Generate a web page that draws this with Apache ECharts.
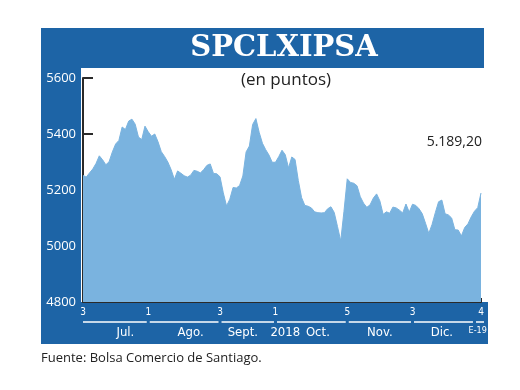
<!DOCTYPE html>
<html><head><meta charset="utf-8">
<script src="https://cdn.jsdelivr.net/npm/echarts@6/dist/echarts.min.js"></script>
<style>html,body{margin:0;padding:0;background:#fff}#c{width:520px;height:390px}</style>
</head><body><div id="c"></div><script>
// SPCLXIPSA daily closes, 3 Jul 2018 .. 4 Jan 2019
const values = [
5252,5246,5261,5275,5295,5322,5308,5290,5301,5336,5364,5377,5425,5416,5446,5453,5435,5389,5380,5428,
5408,5392,5400,5372,5337,5320,5300,5273,5238,5268,5260,5251,5246,5253,5270,5267,5261,5273,5288,5293,5259,5258,
5247,5190,5143,5167,5209,5207,5216,5250,5336,5357,5434,5455,5406,5367,5344,5325,5299,
5299,5319,5342,5326,5279,5318,5309,5234,5173,5145,5142,5136,5122,5119,5118,5119,5133,5140,5120,5070,5018,5124,5240,
5227,5224,5215,5176,5153,5138,5147,5171,5186,5161,5113,5122,5117,5139,5136,5128,5118,5150,5121,
5149,5145,5133,5115,5081,5045,5077,5119,5158,5164,5115,5111,5100,5058,5057,5036,5066,5079,5104,5124,5137,5189.2
];
const categories = values.map((_, i) => String(i));
const dayTickIdx = [0, 20, 42, 59, 81, 101, 122];
const dayTickText = ['3', '1', '3', '1', '5', '3', '4'];
const monthIdx = [13, 33, 49, 62, 72, 91, 110, 121];
const monthText = ['Jul.', 'Ago.', 'Sept.', '2018', 'Oct.', 'Nov.', 'Dic.', 'E-19'];
const monthSpans = [[0,20],[20,42],[42,59],[59,81],[81,101],[101,120],[120,122]];
const yMin = 4800, yMax = 5600, yStep = 200;
const titleText = 'SPCLXIPSA';
const subText = '(en puntos)';
const sourceText = 'Fuente: Bolsa Comercio de Santiago.';

const BLUE = '#1d64a6', AREA = '#7ab3df', DARK = '#2a2a2a';
const sans = "'Open Sans', 'DejaVu Sans', sans-serif";
const narrow = "'Liberation Sans Narrow', 'DejaVu Sans Condensed', 'Liberation Sans', sans-serif";

function fmt(v) {
  const p = v.toFixed(2).split('.');
  return p[0].replace(/\B(?=(\d{3})+(?!\d))/g, '.') + ',' + p[1];
}

const chart = echarts.init(document.getElementById('c'), null, {renderer: 'canvas'});
const opt = {
  animation: false,
  backgroundColor: '#ffffff',
  grid: {left: 83, right: 39, top: 78, bottom: 88, containLabel: false},
  xAxis: [{
    type: 'category', data: categories, boundaryGap: false,
    axisLine: {show: true, lineStyle: {color: DARK, width: 2}},
    axisTick: {show: true, inside: true, length: 4, interval: (i) => i === values.length - 1, lineStyle: {color: DARK, width: 2}},
    axisLabel: {
      interval: (i) => dayTickIdx.includes(i),
      formatter: (v, i) => dayTickText[dayTickIdx.indexOf(i)] || '',
      color: '#ffffff', fontSize: 10, margin: 5, fontFamily: narrow
    },
    splitLine: {show: false}
  }, {
    type: 'category', data: categories, boundaryGap: false, position: 'bottom', offset: 20,
    axisLine: {show: false}, axisTick: {show: false},
    axisLabel: {
      interval: (i) => monthIdx.includes(i),
      formatter: (v, i) => {
        const t = monthText[monthIdx.indexOf(i)] || '';
        return i === monthIdx[monthIdx.length - 1] ? '{s|' + t + '}' : t;
      },
      rich: {s: {fontSize: 9, color: '#ffffff', fontFamily: narrow}},
      color: '#ffffff', fontSize: 13, margin: 4, fontFamily: narrow
    },
    splitLine: {show: false}
  }],
  yAxis: {
    type: 'value', min: yMin, max: yMax, interval: yStep,
    axisLine: {show: true, lineStyle: {color: DARK, width: 2}},
    axisTick: {show: true, inside: true, length: 10, lineStyle: {color: DARK, width: 2}},
    axisLabel: {color: '#ffffff', fontSize: 13, margin: 7, fontFamily: sans, formatter: (v) => String(v)},
    splitLine: {show: false}
  },
  series: [{
    type: 'line', data: values, symbol: 'none', smooth: false,
    lineStyle: {color: AREA, width: 1},
    areaStyle: {color: AREA, opacity: 1}
  }],
  graphic: [
    {type: 'rect', z: -10, shape: {x: 41, y: 28, width: 443, height: 316}, style: {fill: BLUE}},
    {type: 'rect', z: -10, shape: {x: 470, y: 302, width: 18, height: 42}, style: {fill: BLUE}},
    {type: 'rect', z: -9, shape: {x: 81, y: 68, width: 403, height: 234}, style: {fill: '#ffffff'}},
    {type: 'text', z: 50, x: 284, y: 48, style: {text: titleText, fill: '#ffffff', font: "bold 29px 'DejaVu Serif', 'Liberation Serif', serif", textAlign: 'center', textVerticalAlign: 'middle'}},
    {type: 'text', z: 50, x: 286, y: 80, style: {text: subText, fill: '#222222', font: "17px " + sans, textAlign: 'center', textVerticalAlign: 'middle'}},
    {type: 'text', z: 50, x: 482, y: 142, style: {text: fmt(values[values.length - 1]), fill: '#222222', font: "14px " + sans, textAlign: 'right', textVerticalAlign: 'middle'}},
    {type: 'text', z: 50, x: 41, y: 358, style: {text: sourceText, fill: '#222222', font: "13px " + sans, textAlign: 'left', textVerticalAlign: 'middle'}}
  ]
};
chart.setOption(opt);

// bracket lines under the month labels, placed via the axis scale
const lines = monthSpans.map(([a, b], k) => {
  let x1 = chart.convertToPixel({xAxisIndex: 0}, a);
  let x2 = chart.convertToPixel({xAxisIndex: 0}, b);
  x1 += (k === 0 ? 0 : 1.5);
  x2 -= (k === monthSpans.length - 1 ? -3 : 1.5);
  return {type: 'line', z: 50, shape: {x1: x1, y1: 322, x2: x2, y2: 322}, style: {stroke: '#ffffff', lineWidth: 1.5}};
});
chart.setOption({graphic: opt.graphic.concat(lines)});
</script></body></html>
